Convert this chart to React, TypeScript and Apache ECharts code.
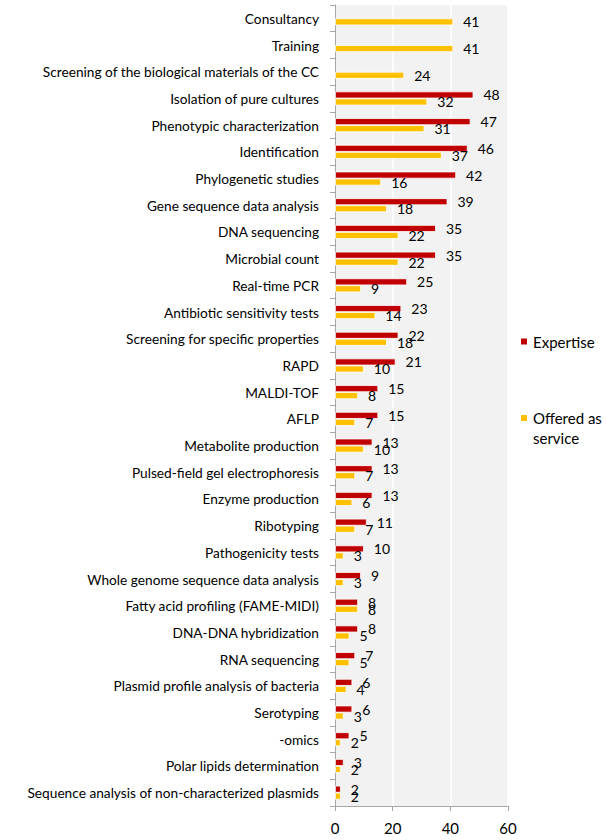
import React, { useEffect, useRef } from "react";
import * as echarts from "echarts";

const categories: string[] = [
  "Consultancy",
  "Training",
  "Screening of the biological materials of the CC",
  "Isolation of pure cultures",
  "Phenotypic characterization",
  "Identification",
  "Phylogenetic studies",
  "Gene sequence data analysis",
  "DNA sequencing",
  "Microbial count",
  "Real-time PCR",
  "Antibiotic sensitivity tests",
  "Screening for specific properties",
  "RAPD",
  "MALDI-TOF",
  "AFLP",
  "Metabolite production",
  "Pulsed-field gel electrophoresis",
  "Enzyme production",
  "Ribotyping",
  "Pathogenicity tests",
  "Whole genome sequence data analysis",
  "Fatty acid profiling (FAME-MIDI)",
  "DNA-DNA hybridization",
  "RNA sequencing",
  "Plasmid profile analysis of bacteria",
  "Serotyping",
  "-omics",
  "Polar lipids determination",
  "Sequence analysis of non-characterized plasmids",
];

const expertise: (number | null)[] = [
  null, null, null, 48, 47, 46, 42, 39, 35, 35, 25, 23, 22, 21, 15, 15, 13, 13, 13, 11, 10, 9, 8, 8, 7, 6, 6, 5, 3, 2,
];

const offeredAsService: number[] = [
  41, 41, 24, 32, 31, 37, 16, 18, 22, 22, 9, 14, 18, 10, 8, 7, 10, 7, 6, 7, 3, 3, 8, 5, 5, 4, 3, 2, 2, 2,
];

const xTicks = { min: 0, max: 60, interval: 20 };

const FONT = "Lato, 'Open Sans', sans-serif";

export default function App() {
  const ref = useRef<HTMLDivElement>(null);
  useEffect(() => {
    if (!ref.current) return;
    const chart = echarts.init(ref.current, undefined, { renderer: "svg" });
    chart.setOption({
      animation: false,
      textStyle: { fontFamily: FONT },
      grid: {
        left: 335,
        right: 98,
        top: 5,
        bottom: 34,
        show: true,
        backgroundColor: "#f2f2f2",
        borderWidth: 0,
      },
      legend: [
        {
          data: ["Expertise"],
          orient: "vertical",
          left: 519,
          top: 334,
          padding: 0,
          itemWidth: 8,
          itemHeight: 8,
          icon: "rect",
          textStyle: { fontSize: 15, color: "#000", fontFamily: FONT },
        },
        {
          data: ["Offered as service"],
          orient: "vertical",
          left: 519,
          top: 408,
          padding: 0,
          itemWidth: 8,
          itemHeight: 28,
          icon: "path://M0,0H8V8H0Z M0,28L0,28",
          formatter: () => "Offered as\nservice",
          textStyle: {
            fontSize: 15,
            color: "#000",
            fontFamily: FONT,
            lineHeight: 20,
          },
        },
      ],
      xAxis: {
        type: "value",
        min: xTicks.min,
        max: xTicks.max,
        interval: xTicks.interval,
        axisLine: { show: true, lineStyle: { color: "#a6a6a6", width: 1 } },
        axisTick: { show: true, length: 5, lineStyle: { color: "#a6a6a6" } },
        axisLabel: { fontSize: 15, color: "#000", margin: 14, fontFamily: FONT },
        splitLine: { show: true, lineStyle: { color: "#ffffff", width: 1.5 } },
      },
      yAxis: {
        type: "category",
        data: categories,
        inverse: true,
        axisLine: { show: true, lineStyle: { color: "#a6a6a6", width: 1 } },
        axisTick: { show: true, length: 5, alignWithLabel: false, lineStyle: { color: "#a6a6a6" } },
        axisLabel: { fontSize: 13.7, color: "#000", margin: 16, fontFamily: FONT },
        splitLine: { show: false },
      },
      series: [
        {
          name: "Expertise",
          type: "bar",
          data: expertise,
          barWidth: 7,
          barGap: "0%",
          itemStyle: { color: "#c00000", borderColor: "#ffffff", borderWidth: 0.8 },
          label: {
            show: true,
            position: "right",
            distance: 10,
            fontSize: 14,
            color: "#000",
            fontFamily: FONT,
          },
        },
        {
          name: "Offered as service",
          type: "bar",
          data: offeredAsService,
          barWidth: 7,
          barGap: "0%",
          itemStyle: { color: "#ffc000", borderColor: "#ffffff", borderWidth: 0.8 },
          label: {
            show: true,
            position: "right",
            distance: 10,
            fontSize: 14,
            color: "#000",
            fontFamily: FONT,
          },
        },
      ],
    });
    return () => chart.dispose();
  }, []);
  return (
    <div
      ref={ref}
      style={{ position: "absolute", left: 0, top: 0, width: 606, height: 840, background: "#fff" }}
    />
  );
}
